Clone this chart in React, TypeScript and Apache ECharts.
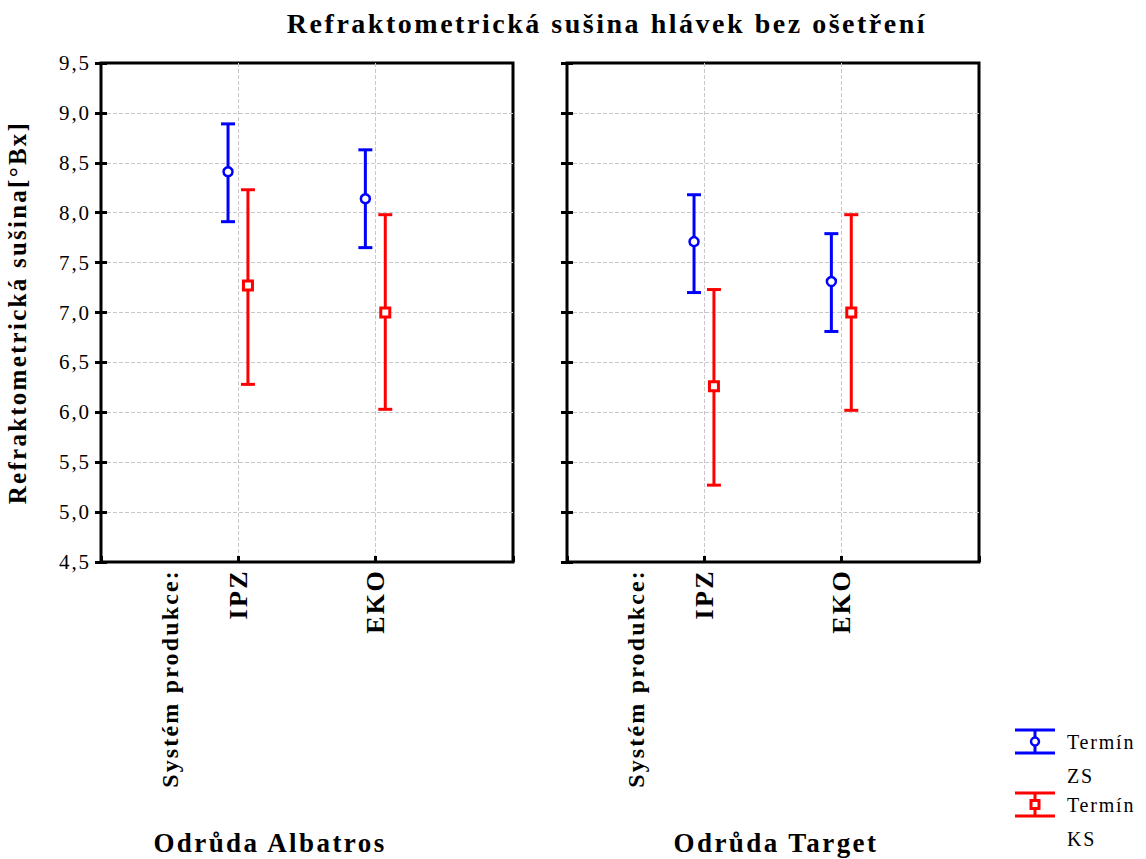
import React, { useEffect, useRef } from "react";
import * as echarts from "echarts";

// ---- data ----
const chartTitle = "Refraktometrická sušina hlávek bez ošetření";
const yAxisTitle = "Refraktometrická sušina[°Bx]";
const xPrefix = "Systém produkce:";
const categories = ["IPZ", "EKO"];
const varieties = ["Odrůda Albatros", "Odrůda Target"];
const terms = ["Termín ZS", "Termín KS"];

const albatrosZsMean = [8.41, 8.14];
const albatrosZsLow = [7.91, 7.65];
const albatrosZsHigh = [8.89, 8.63];
const albatrosKsMean = [7.27, 7.0];
const albatrosKsLow = [6.28, 6.03];
const albatrosKsHigh = [8.23, 7.98];

const targetZsMean = [7.71, 7.31];
const targetZsLow = [7.2, 6.81];
const targetZsHigh = [8.18, 7.79];
const targetKsMean = [6.26, 7.0];
const targetKsLow = [5.27, 6.02];
const targetKsHigh = [7.23, 7.98];

const yMin = 4.5;
const yMax = 9.5;
const yStep = 0.5;

const FONT = "'Liberation Serif', 'Times New Roman', Times, serif";
const BLUE = "#0000ff";
const RED = "#ff0000";

function buildData(mean: number[], low: number[], high: number[]) {
  return categories.map((_, i) => [i + 1, mean[i], low[i], high[i]]);
}

function errorBarSeries(
  name: string,
  data: number[][],
  gridIdx: number,
  color: string,
  offset: number,
  marker: "circle" | "square"
) {
  return {
    type: "custom",
    name,
    xAxisIndex: gridIdx * 2,
    yAxisIndex: gridIdx * 2,
    encode: { x: 0, y: [1, 2, 3] },
    data,
    z: 5,
    renderItem: (params: any, api: any) => {
      const x = api.value(0) + offset;
      const m = api.coord([x, api.value(1)]);
      const lo = api.coord([x, api.value(2)]);
      const hi = api.coord([x, api.value(3)]);
      const cap = 7;
      const ls = { stroke: color, lineWidth: 3 };
      const children: any[] = [
        { type: "line", shape: { x1: m[0], y1: hi[1], x2: m[0], y2: lo[1] }, style: ls },
        { type: "line", shape: { x1: m[0] - cap, y1: hi[1], x2: m[0] + cap, y2: hi[1] }, style: ls },
        { type: "line", shape: { x1: m[0] - cap, y1: lo[1], x2: m[0] + cap, y2: lo[1] }, style: ls },
      ];
      if (marker === "circle") {
        children.push({
          type: "circle",
          shape: { cx: m[0], cy: m[1], r: 4.5 },
          style: { fill: "#fff", stroke: color, lineWidth: 2.5 },
        });
      } else {
        children.push({
          type: "rect",
          shape: { x: m[0] - 4.5, y: m[1] - 4.5, width: 9, height: 9 },
          style: { fill: "#fff", stroke: color, lineWidth: 3 },
        });
      }
      return { type: "group", children };
    },
  };
}

const grids = [
  { left: 101, top: 63, width: 412, height: 499 },
  { left: 567, top: 63, width: 412, height: 499 },
];

export default function App() {
  const ref = useRef<HTMLDivElement>(null);
  useEffect(() => {
    document.body.style.margin = "0";
    document.body.style.overflow = "hidden";
    if (!ref.current) return;
    const chart = echarts.init(ref.current, undefined, { renderer: "svg" });

    const xAxes: any[] = [];
    const yAxes: any[] = [];
    grids.forEach((_, g) => {
      xAxes.push({
        type: "value",
        gridIndex: g,
        position: "bottom",
        min: 0,
        max: 3,
        interval: 1,
        axisLine: { show: false },
        axisTick: { show: true, inside: true, length: 6, lineStyle: { color: "#000", width: 3 } },
        axisLabel: { show: false },
        splitLine: {
          show: true,
          showMinLine: false,
          showMaxLine: false,
          lineStyle: { color: "#c8c8c8", type: "dashed", width: 1 },
        },
      });
      xAxes.push({
        type: "value",
        gridIndex: g,
        position: "bottom",
        min: 0,
        max: 3,
        interval: 0.5,
        axisLine: { show: false },
        axisTick: { show: false },
        splitLine: { show: false },
        axisLabel: {
          show: true,
          rotate: 90,
          margin: 7,
          fontFamily: FONT,
          fontWeight: "bold",
          fontSize: 25,
          color: "#000",
          rich: {
            p: { fontFamily: FONT, fontWeight: "bold", fontSize: 24, color: "#000" },
            c: { fontFamily: FONT, fontWeight: "bold", fontSize: 26, color: "#000" },
          },
          formatter: (v: number) => {
            if (v === 0.5) return `{p|${xPrefix}}`;
            if (Number.isInteger(v) && v >= 1 && v <= categories.length) return `{c|${categories[v - 1]}}`;
            return "";
          },
        },
      });
      yAxes.push({
        type: "value",
        gridIndex: g,
        position: "left",
        min: yMin,
        max: yMax,
        interval: yStep,
        name: g === 0 ? yAxisTitle : "",
        nameLocation: "middle",
        nameRotate: 90,
        nameGap: 71,
        nameTextStyle: { fontFamily: FONT, fontWeight: "bold", fontSize: 25, color: "#000" },
        axisLine: { show: false },
        axisTick: { show: true, inside: true, length: 6, lineStyle: { color: "#000", width: 3 } },
        axisLabel: {
          show: g === 0,
          margin: 10,
          fontFamily: FONT,
          fontSize: 21,
          color: "#000",
          formatter: (v: number) => v.toFixed(1).replace(".", ","),
        },
        splitLine: {
          show: true,
          showMinLine: false,
          showMaxLine: false,
          lineStyle: { color: "#c8c8c8", type: "dashed", width: 1 },
        },
      });
      yAxes.push({
        type: "value",
        gridIndex: g,
        position: "right",
        min: yMin,
        max: yMax,
        interval: yStep,
        axisLine: { show: false },
        axisTick: { show: true, inside: true, length: 6, lineStyle: { color: "#000", width: 3 } },
        axisLabel: { show: false },
        splitLine: { show: false },
      });
    });

    const series = [
      errorBarSeries(terms[0], buildData(albatrosZsMean, albatrosZsLow, albatrosZsHigh), 0, BLUE, -0.075, "circle"),
      errorBarSeries(terms[1], buildData(albatrosKsMean, albatrosKsLow, albatrosKsHigh), 0, RED, 0.07, "square"),
      errorBarSeries(terms[0], buildData(targetZsMean, targetZsLow, targetZsHigh), 1, BLUE, -0.075, "circle"),
      errorBarSeries(terms[1], buildData(targetKsMean, targetKsLow, targetKsHigh), 1, RED, 0.07, "square"),
    ];

    const legendItem = (yTop: number, color: string, marker: "circle" | "square", label: string) => {
      const [w1, w2] = label.split(" ");
      const ls = { stroke: color, lineWidth: 3 };
      const yBot = yTop + 23;
      const yMid = (yTop + yBot) / 2;
      const els: any[] = [
        { type: "line", shape: { x1: 1015, y1: yTop, x2: 1055, y2: yTop }, style: ls },
        { type: "line", shape: { x1: 1015, y1: yBot, x2: 1055, y2: yBot }, style: ls },
        { type: "line", shape: { x1: 1035, y1: yTop, x2: 1035, y2: yBot }, style: ls },
        marker === "circle"
          ? { type: "circle", shape: { cx: 1035, cy: yMid, r: 4 }, style: { fill: "#fff", stroke: color, lineWidth: 2.5 } }
          : { type: "rect", shape: { x: 1031, y: yMid - 4, width: 8, height: 8 }, style: { fill: "#fff", stroke: color, lineWidth: 3 } },
        {
          type: "text",
          x: 1067,
          y: yMid,
          style: { text: w1, fontFamily: FONT, fontSize: 20, fill: "#000", align: "left", verticalAlign: "middle" },
        },
        {
          type: "text",
          x: 1067,
          y: yMid + 34,
          style: { text: w2, fontFamily: FONT, fontSize: 20, fill: "#000", align: "left", verticalAlign: "middle" },
        },
      ];
      return els;
    };

    const boldText = (text: string, x: number, y: number, size: number) => ({
      type: "text",
      x,
      y,
      style: {
        text,
        fontFamily: FONT,
        fontWeight: "bold",
        fontSize: size,
        fill: "#000",
        align: "center",
        verticalAlign: "middle",
      },
    });

    const option: any = {
      animation: false,
      backgroundColor: "#fff",
      textStyle: { fontFamily: FONT },
      grid: grids.map((g) => ({
        ...g,
        show: true,
        borderColor: "#000",
        borderWidth: 3,
        backgroundColor: "transparent",
      })),
      xAxis: xAxes,
      yAxis: yAxes,
      series,
      graphic: [
        boldText(chartTitle, 607, 23, 28),
        boldText(varieties[0], 270, 843, 27),
        boldText(varieties[1], 776, 843, 27),
        ...legendItem(730, BLUE, "circle", terms[0]),
        ...legendItem(793, RED, "square", terms[1]),
      ],
    };
    chart.setOption(option);
    return () => chart.dispose();
  }, []);

  return (
    <>
      <style>{`#chart-box svg text { letter-spacing: 0.09em; }`}</style>
      <div id="chart-box" ref={ref} style={{ width: 1146, height: 859 }} />
    </>
  );
}
